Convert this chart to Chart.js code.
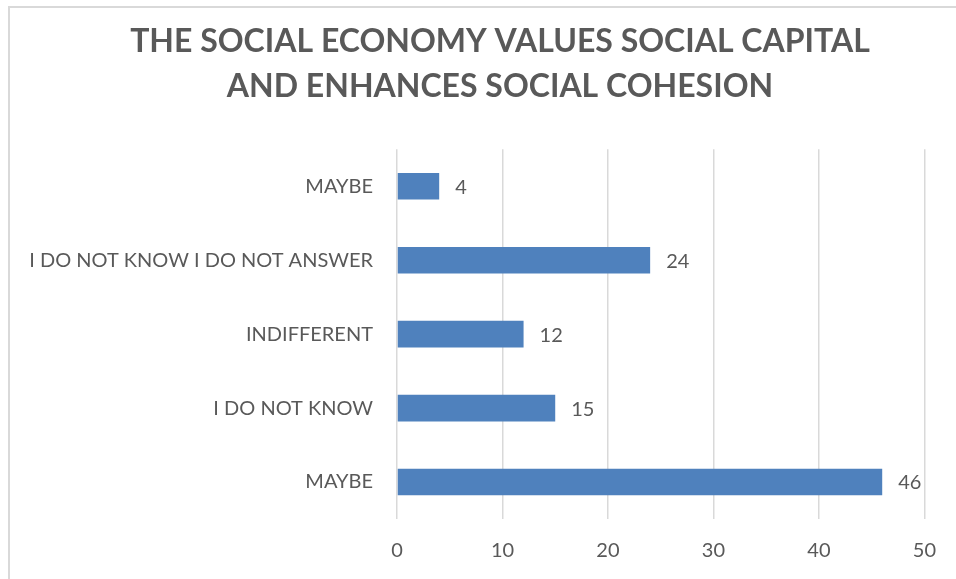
<!DOCTYPE html>
<html>
<head>
<meta charset="utf-8">
<script src="https://cdn.jsdelivr.net/npm/chart.js@4/dist/chart.umd.min.js"></script>
<style>
  html, body { margin: 0; padding: 0; background: #fff; overflow: hidden; }
  #frame {
    position: absolute; left: 8px; top: 6px; width: 1000px; height: 620px;
    border: 2px solid #d9d9d9; box-sizing: border-box;
  }
  #wrap { position: absolute; left: 0; top: 0; width: 956px; height: 579px; }
</style>
</head>
<body>
<div id="frame"></div>
<div id="wrap"><canvas id="chart" width="956" height="579"></canvas></div>
<script>
const titleLines = ['THE SOCIAL ECONOMY VALUES SOCIAL CAPITAL', 'AND ENHANCES SOCIAL COHESION'];
const categories = ['MAYBE', 'I DO NOT KNOW I DO NOT ANSWER', 'INDIFFERENT', 'I DO NOT KNOW', 'MAYBE'];
const responses = [4, 24, 12, 15, 46];
const xTicks = [0, 10, 20, 30, 40, 50];

const textColor = '#595959';
const fontFamily = 'Lato, "Open Sans", sans-serif';

// value printed just past the end of each bar
const barValues = {
    id: 'barValues',
    afterDatasetsDraw(chart) {
        const ctx = chart.ctx;
        const meta = chart.getDatasetMeta(0);
        ctx.save();
        ctx.font = '20px ' + fontFamily;
        ctx.fillStyle = textColor;
        ctx.textAlign = 'left';
        ctx.textBaseline = 'middle';
        meta.data.forEach((bar, i) => {
            ctx.fillText(String(chart.data.datasets[0].data[i]), bar.x + 16, bar.y + 1);
        });
        ctx.restore();
    }
};

// the title sits centred over the frame, a bit right of the canvas centre
const titleShift = {
    id: 'titleShift',
    afterLayout(chart) {
        if (chart.titleBlock) {
            chart.titleBlock.left += 72;
        }
    }
};

const ctx = document.getElementById('chart').getContext('2d');
new Chart(ctx, {
    type: 'bar',
    data: {
        labels: categories,
        datasets: [{
            data: responses,
            backgroundColor: '#4f81bd',
            borderWidth: 0,
            categoryPercentage: 0.36,
            barPercentage: 1
        }]
    },
    plugins: [barValues, titleShift],
    options: {
        indexAxis: 'y',
        responsive: false,
        animation: false,
        layout: { padding: { left: 0, right: 28, top: 0, bottom: 0 } },
        plugins: {
            legend: { display: false },
            tooltip: { enabled: false },
            title: {
                display: true,
                text: titleLines,
                color: textColor,
                font: { family: fontFamily, size: 32, weight: 'bold', lineHeight: 1.38 },
                padding: { top: 20, bottom: 41 }
            }
        },
        scales: {
            x: {
                min: 0,
                max: 50,
                afterBuildTicks: scale => { scale.ticks = xTicks.map(v => ({ value: v })); },
                afterFit: scale => { scale.height = 60; },
                grid: { color: '#d9d9d9', lineWidth: 1.5, drawTicks: false },
                border: { display: false },
                ticks: { color: textColor, font: { family: fontFamily, size: 20 }, padding: 20 }
            },
            y: {
                afterFit: scale => { scale.width = 397; },
                grid: { display: false, drawTicks: false },
                border: { display: false },
                ticks: { color: textColor, font: { family: fontFamily, size: 20 }, padding: 24 }
            }
        }
    }
});
</script>
</body>
</html>
